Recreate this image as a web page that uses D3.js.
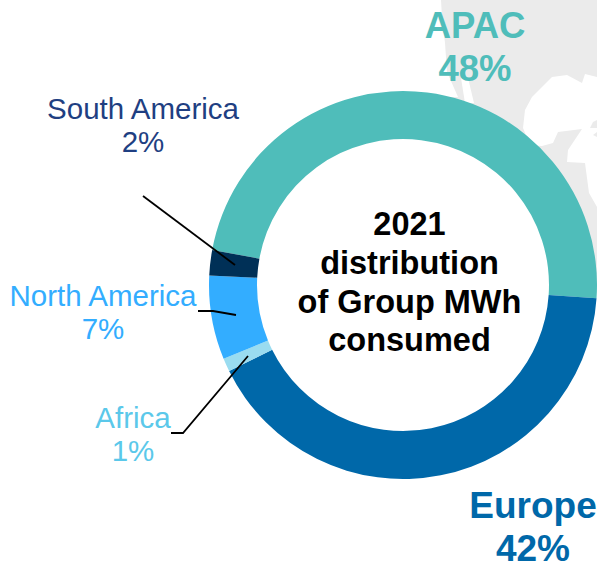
<!DOCTYPE html>
<html><head><meta charset="utf-8">
<script src="https://cdn.jsdelivr.net/npm/d3@7/dist/d3.min.js"></script>
<style>html,body{margin:0;padding:0;background:#fff}svg{display:block}text{font-family:"Liberation Sans",Arial,sans-serif}</style>
</head><body><svg id="c" width="597" height="563"></svg>
<script>
const categories=["APAC","Europe","Africa","North America","South America"];
const shares=[48.2,41.6,1.1,7.0,2.1];
const sliceColors=["#4fbdba","#0068a9","#9adcf0","#33adff","#003057"];
const labelColors=["#4fbdba","#0068a9","#5bc8ea","#33adff","#1f3f82"];
const labelPos=[[475,37.5,"b",36.5],[533,518,"b",37],[133,428,"n",29.5],[103,306,"n",29.5],[143,119,"n",29.5]];
const centerLines=["2021","distribution","of Group MWh","consumed"];
const leaders=[[[143,196],[235,265]],[[198,311],[213,311],[236,315]],[[171,433],[183,433],[248,356]]];
const mapOutline=[[441,0],[597,0],[597,77],[585,74],[582,83],[567,75],[552,77],[532,97],[525,110],[523,128],[530,145],[542,146],[553,143],[558,132],[582,129],[568,150],[567,162],[585,163],[589,193],[597,207],[597,290],[403,290],[403,97],[458,97],[447,72],[445,43],[442,17]];
const mapInlet=[[461,78],[468,78],[474,103],[465,103]];
const mapIslands=[[[590,128],[593,122],[597,120],[597,128]],[[593,135],[597,132],[597,137]]];

const svg=d3.select("#c");
const cx=403,cy=285,R=194,r=146;
const line=d3.line();
svg.append("path").attr("d",line(mapOutline)+"Z").attr("fill","#ebebeb");
svg.append("path").attr("d",line(mapInlet)+"Z").attr("fill","#fff");
mapIslands.forEach(p=>svg.append("path").attr("d",line(p)+"Z").attr("fill","#ebebeb"));
svg.append("circle").attr("cx",cx).attr("cy",cy).attr("r",R-1).attr("fill","#fff");

const pie=d3.pie().sort(null).startAngle(280.4*Math.PI/180).endAngle((280.4+360)*Math.PI/180);
const arc=d3.arc().innerRadius(r).outerRadius(R);
const g=svg.append("g").attr("transform",`translate(${cx},${cy})`);
g.selectAll("path").data(pie(shares)).join("path").attr("d",arc).attr("fill",(d,i)=>sliceColors[i]);

svg.selectAll("path.leader").data(leaders).join("path").attr("class","leader")
  .attr("d",d=>line(d)).attr("fill","none").attr("stroke","#000").attr("stroke-width",1.8);

categories.forEach((c,i)=>{
  const [x,y,w,s]=labelPos[i];
  const t=svg.append("text").attr("text-anchor","middle").attr("fill",labelColors[i])
    .attr("font-size",s).attr("font-weight",w==="b"?"bold":"normal");
  t.append("tspan").attr("x",x).attr("y",y).text(c);
  t.append("tspan").attr("x",x).attr("y",y+(w==="b"?43:33)).text(Math.round(shares[i])+"%");
});
centerLines.forEach((l,i)=>{
  svg.append("text").attr("x",409.5).attr("y",235.3+i*38.7).attr("text-anchor","middle")
    .attr("font-size",32.5).attr("font-weight","bold").attr("fill","#000").text(l);
});
</script></body></html>
